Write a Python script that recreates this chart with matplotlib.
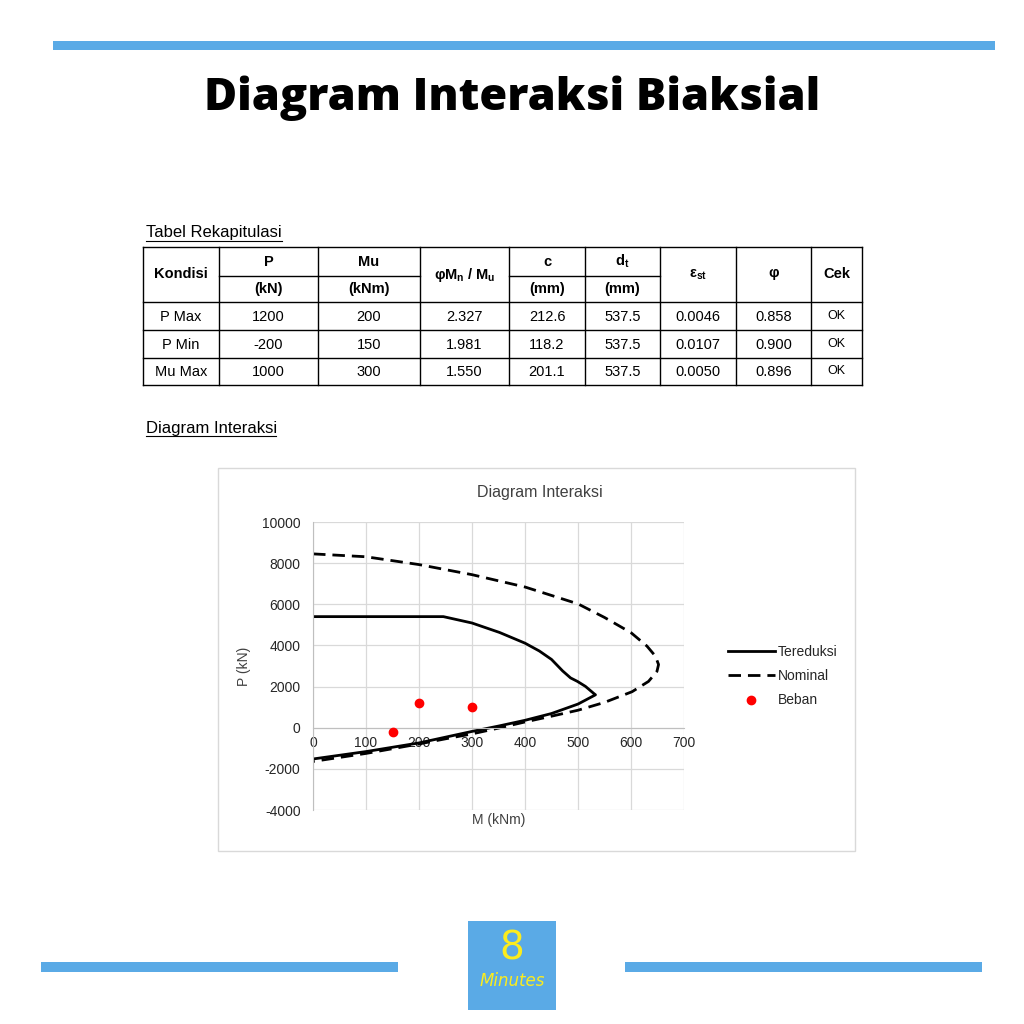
import numpy as np
import matplotlib
matplotlib.use("Agg")
import matplotlib.pyplot as plt
from matplotlib.patches import Rectangle

plt.rcParams["axes.unicode_minus"] = False
plt.rcParams["mathtext.fontset"] = "custom"
plt.rcParams["mathtext.rm"] = "Liberation Sans"
plt.rcParams["mathtext.it"] = "Liberation Sans:italic"
plt.rcParams["mathtext.bf"] = "Liberation Sans:bold"

# ---- data ----
kondisi = ["P Max", "P Min", "Mu Max"]
p_beban = [1200, -200, 1000]
mu_beban = [200, 150, 300]
ratio = ["2.327", "1.981", "1.550"]
c_val = ["212.6", "118.2", "201.1"]
dt_val = ["537.5", "537.5", "537.5"]
eps_st = ["0.0046", "0.0107", "0.0050"]
phi_val = ["0.858", "0.900", "0.896"]
cek = ["OK", "OK", "OK"]

m_tereduksi = [0, 100, 200, 246, 300, 352, 400, 427, 450, 471, 486, 499, 514, 530, 533,
               514, 500, 450, 400, 350, 300, 250, 200, 100, 0]
p_tereduksi = [5400, 5400, 5400, 5400, 5090, 4630, 4110, 3730, 3320, 2760, 2420, 2250, 2010, 1660, 1600,
               1340, 1150, 690, 360, 80, -180, -460, -740, -1160, -1520]

m_nominal = [0, 100, 200, 300, 400, 500, 550, 600, 630, 646, 652, 649, 633, 602, 550,
             500, 450, 400, 350, 300, 250, 200, 100, 0]
p_nominal = [8450, 8310, 7930, 7440, 6840, 6020, 5360, 4620, 3970, 3480, 3070, 2740, 2250, 1750, 1230,
             850, 560, 280, -20, -300, -540, -790, -1250, -1640]

x_ticks = [0, 100, 200, 300, 400, 500, 600, 700]
y_ticks = [-4000, -2000, 0, 2000, 4000, 6000, 8000, 10000]

BLUE = "#5aaae6"
YELLOW = "#fbec1e"
FONT = "Liberation Sans"

fig = plt.figure(figsize=(10.24, 10.24), dpi=100)
bg = fig.add_axes([0, 0, 1, 1])
bg.set_xlim(0, 1024)
bg.set_ylim(1024, 0)
bg.axis("off")

# top bar + title
bg.add_patch(Rectangle((53, 41), 942, 9, color=BLUE, lw=0))
bg.text(512, 98, "Diagram Interaksi Biaksial", ha="center", va="center",
        fontsize=32.5, fontweight="heavy", family="Open Sans", color="black")

# table caption
bg.text(146, 233, "Tabel Rekapitulasi", ha="left", va="center", fontsize=12, family=FONT)
bg.plot([146, 282], [241, 241], color="black", lw=0.8)

# table
cols = [143, 219, 318, 420, 509, 585, 660, 736, 811, 862]
rows = [247, 276, 302, 330, 358, 385]
lw = 1.0
for y in [rows[0]] + rows[2:]:
    bg.plot([cols[0], cols[-1]], [y, y], color="black", lw=lw)
for x in cols:
    bg.plot([x, x], [rows[0], rows[-1]], color="black", lw=lw)
for i in [1, 2, 4, 5]:
    bg.plot([cols[i], cols[i + 1]], [rows[1], rows[1]], color="black", lw=lw)

def cx(i):
    return (cols[i] + cols[i + 1]) / 2

hdr = dict(ha="center", va="center", fontsize=10.5, fontweight="bold", family=FONT)
mid = (rows[0] + rows[2]) / 2
r1 = (rows[0] + rows[1]) / 2
r2 = (rows[1] + rows[2]) / 2
bg.text(cx(0), mid, "Kondisi", **hdr)
bg.text(cx(1), r1, "P", **hdr)
bg.text(cx(1), r2, "(kN)", **hdr)
bg.text(cx(2), r1, "Mu", **hdr)
bg.text(cx(2), r2, "(kNm)", **hdr)
bg.text(cx(3), mid, r"$\mathbf{\varphi M_n\ /\ M_u}$", **hdr)
bg.text(cx(4), r1, "c", **hdr)
bg.text(cx(4), r2, "(mm)", **hdr)
bg.text(cx(5), r1, r"$\mathbf{d_t}$", **hdr)
bg.text(cx(5), r2, "(mm)", **hdr)
bg.text(cx(6), mid, r"$\mathbf{\varepsilon_{st}}$", **hdr)
bg.text(cx(7), mid, r"$\mathbf{\varphi}$", **hdr)
bg.text(cx(8), mid, "Cek", **hdr)

cell = dict(ha="center", va="center", fontsize=10.5, family=FONT)
for r in range(len(kondisi)):
    yc = (rows[r + 2] + rows[r + 3]) / 2 + 1
    vals = [kondisi[r], str(p_beban[r]), str(mu_beban[r]), ratio[r], c_val[r],
            dt_val[r], eps_st[r], phi_val[r]]
    for i, v in enumerate(vals):
        bg.text(cx(i), yc, v, **cell)
    bg.text(cx(8), yc - 1, cek[r], ha="center", va="center", fontsize=9, family=FONT)

# chart caption
bg.text(146, 428, "Diagram Interaksi", ha="left", va="center", fontsize=12, family=FONT)
bg.plot([146, 276], [436, 436], color="black", lw=0.8)

# chart frame
bg.add_patch(Rectangle((218, 468), 637, 383, fill=False, ec="#d9d9d9", lw=1))
bg.text(540, 492, "Diagram Interaksi", ha="center", va="center", fontsize=11.5,
        family=FONT, color="#404040")

# bottom bars + logo
bg.add_patch(Rectangle((41, 962), 357, 10, color=BLUE, lw=0))
bg.add_patch(Rectangle((625, 962), 357, 10, color=BLUE, lw=0))
bg.add_patch(Rectangle((468, 921), 88, 89, color=BLUE, lw=0))
bg.text(512, 948, "8", ha="center", va="center", fontsize=28, color=YELLOW,
        family="DejaVu Sans")
bg.text(512, 981, "Minutes", ha="center", va="center", fontsize=12, color=YELLOW,
        family="DejaVu Sans", fontstyle="italic")

# interaction chart
ax = fig.add_axes([313 / 1024, 1 - 810 / 1024, (684 - 313) / 1024, (810 - 522) / 1024])
ax.set_zorder(2)
ax.patch.set_alpha(0)
ax.plot(m_tereduksi, p_tereduksi, color="black", lw=2, label="Tereduksi", solid_joinstyle="round")
ax.plot(m_nominal, p_nominal, color="black", lw=2, linestyle=(0, (4.5, 2.5)), label="Nominal")
ax.plot(mu_beban, p_beban, "o", color="red", ms=6, label="Beban", zorder=3)

ax.set_xlim(0, 700)
ax.set_ylim(-4000, 10000)
ax.set_xticks(x_ticks)
ax.set_yticks(y_ticks)
ax.grid(True, color="#d9d9d9", lw=0.9)
ax.set_axisbelow(True)
for s in ["top", "right"]:
    ax.spines[s].set_visible(False)
ax.spines["bottom"].set_position(("data", 0))
ax.spines["bottom"].set_color("#bfbfbf")
ax.spines["left"].set_color("#bfbfbf")
ax.tick_params(axis="both", length=0, labelsize=10, labelcolor="#262626")
ax.tick_params(axis="x", pad=6)
ax.tick_params(axis="y", pad=9)
for lab in ax.get_xticklabels() + ax.get_yticklabels():
    lab.set_family(FONT)
ax.set_ylabel("P (kN)", fontsize=10, family=FONT, color="#404040", labelpad=8)
ax.text(0.5, -0.035, "M (kNm)", transform=ax.transAxes, ha="center", va="center",
        fontsize=10, family=FONT, color="#404040")

leg = ax.legend(loc="center left", bbox_to_anchor=(722 / 1024, 1 - 676 / 1024),
                bbox_transform=fig.transFigure, frameon=False, handlelength=3.4,
                handletextpad=0.2, labelspacing=0.75, borderaxespad=0,
                prop={"family": FONT, "size": 10})
for t in leg.get_texts():
    t.set_color("#262626")

fig.savefig("out.png", dpi=100, facecolor="white")
